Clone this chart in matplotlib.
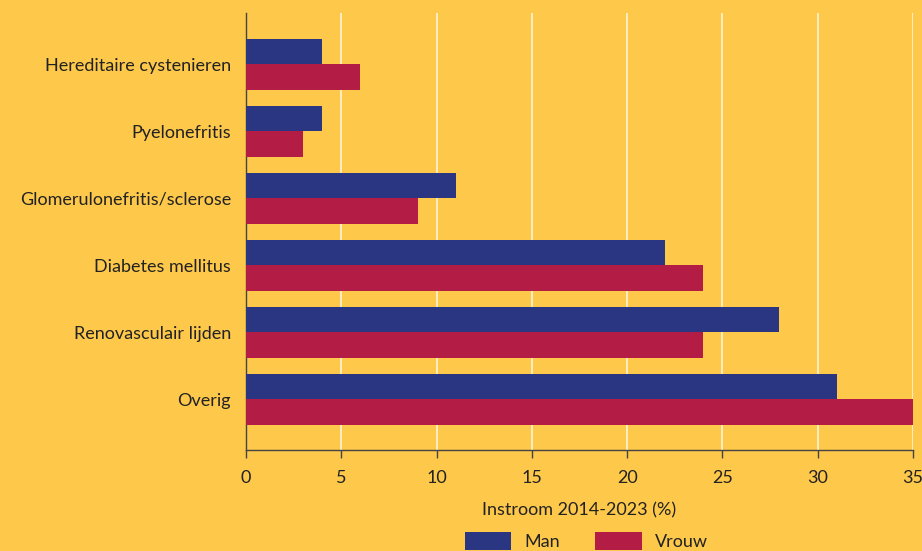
import matplotlib

matplotlib.use("Agg")

import matplotlib.pyplot as plt
import numpy as np

plt.rcParams.update({
    "font.family": ["Lato", "DejaVu Sans"],
    "font.size": 13,
})

BG = "#FEC84A"
MAN_COLOR = "#2B3683"
VROUW_COLOR = "#B31C45"
INK = "#222222"

categories = [
    "Hereditaire cystenieren",
    "Pyelonefritis",
    "Glomerulonefritis/sclerose",
    "Diabetes mellitus",
    "Renovasculair lijden",
    "Overig",
]
man = [4, 4, 11, 22, 28, 31]
vrouw = [6, 3, 9, 24, 24, 35]
xticks = [0, 5, 10, 15, 20, 25, 30, 35]

fig = plt.figure(figsize=(9.22, 5.51), dpi=100, facecolor=BG)
ax = fig.add_axes([0.267, 0.183, 0.723, 0.793], facecolor=BG)

y = np.arange(len(categories))
h = 0.38
ax.barh(y - h / 2, man, height=h, color=MAN_COLOR, label="Man", zorder=3)
ax.barh(y + h / 2, vrouw, height=h, color=VROUW_COLOR, label="Vrouw", zorder=3)

ax.set_ylim(len(categories) - 0.24, -0.76)
ax.set_xlim(0, 35)
ax.set_yticks(y)
ax.set_yticklabels(categories, color=INK)
ax.set_xticks(xticks)
ax.set_xticklabels([str(t) for t in xticks], color=INK)
ax.tick_params(axis="y", length=0, pad=11)
ax.tick_params(axis="x", length=6, width=1, color="#444444", pad=8)

ax.grid(axis="x", color="#FFF3D6", linewidth=1.2, zorder=0)
for side in ("top", "right"):
    ax.spines[side].set_visible(False)
for side in ("left", "bottom"):
    ax.spines[side].set_color("#444444")
    ax.spines[side].set_linewidth(1.0)

ax.set_xlabel("Instroom 2014-2023 (%)", color=INK, labelpad=12)

fig.legend(loc="center", bbox_to_anchor=(0.636, 0.018), ncol=2,
           frameon=False, borderpad=0, handlelength=2.6, handleheight=1.2,
           columnspacing=1.95, handletextpad=0.72, labelcolor=INK)

fig.savefig("out.png", facecolor=BG)
